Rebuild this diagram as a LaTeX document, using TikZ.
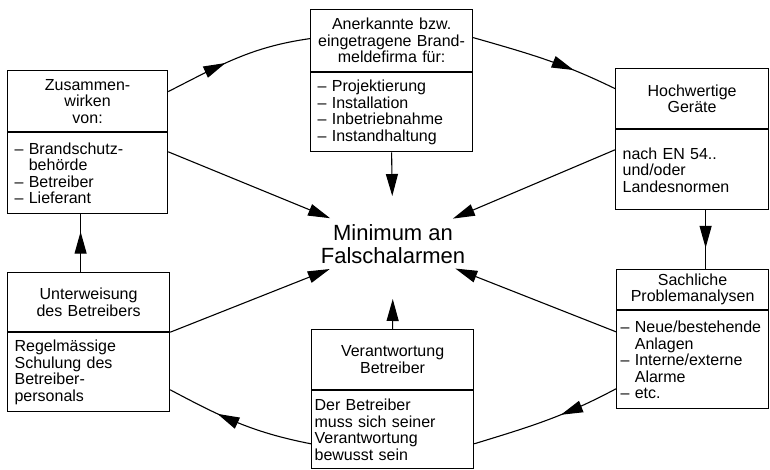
\documentclass[tikz,border=0pt]{standalone}
\usepackage{fontspec}
\setmainfont{Liberation Sans}
\usetikzlibrary{arrows.meta, positioning, decorations.markings}

\newcommand{\boxfont}{\fontsize{16}{16.5}\selectfont}
\newcommand{\hubfont}{\fontsize{22}{23}\selectfont}

\begin{document}
\begin{tikzpicture}[
  x=1pt, y=1pt,
  line width=1.1pt,
  boxhead/.style={draw, line width=1.2pt, align=center, inner xsep=0pt, inner ysep=2pt, font=\boxfont, anchor=north west},
  boxbody/.style={draw, line width=1.2pt, align=left, inner xsep=0pt, inner ysep=2pt, font=\boxfont},
  hub/.style={-{Triangle[length=22pt, width=12pt]}, shorten >=#1},
  flow/.style={postaction={decorate}, decoration={markings, mark=at position #1 with {\arrow{Triangle[length=22pt, width=12pt]}}}}
]
\useasboundingbox (0,0) rectangle (770,-469);

% boxes
\node[boxhead, minimum width=160pt, minimum height=61pt, text width=146pt] (zhead) at (7,-70) {Zusammen-\\wirken\\von:};
\node[boxbody, below=0pt of zhead, minimum width=160pt, minimum height=81pt, text width=146pt] (zbody) {–~Brandschutz-\\\phantom{– }behörde\\–~Betreiber\\–~Lieferant};

\node[boxhead, minimum width=162pt, minimum height=62pt, text width=148pt] (fhead) at (310,-9) {Anerkannte bzw.\\eingetragene Brand-\\meldefirma für:};
\node[boxbody, below=0pt of fhead, minimum width=162pt, minimum height=79pt, text width=148pt] (fbody) {–~Projektierung\\–~Installation\\–~Inbetriebnahme\\–~Instandhaltung};

\node[boxhead, minimum width=153pt, minimum height=60pt, text width=139pt] (ghead) at (615,-68) {Hochwertige\\Geräte};
\node[boxbody, below=0pt of ghead, minimum width=153pt, minimum height=80pt, text width=139pt] (gbody) {nach EN 54..\\und/oder\\Landesnormen};

\node[boxhead, minimum width=152pt, minimum height=40pt, text width=144pt] (phead) at (616,-269) {Sachliche\\Problemanalysen};
\node[boxbody, below=0pt of phead, minimum width=152pt, minimum height=98pt, text width=144pt] (pbody) {–~Neue/bestehende\\\phantom{– }Anlagen\\–~Interne/externe\\\phantom{– }Alarme\\–~etc.};

\node[boxhead, minimum width=162pt, minimum height=60pt, text width=156pt] (vhead) at (311,-329) {Verantwortung\\Betreiber};
\node[boxbody, below=0pt of vhead, minimum width=162pt, minimum height=78pt, text width=156pt] (vbody) {Der Betreiber\\muss sich seiner\\Verantwortung\\bewusst sein};

\node[boxhead, minimum width=162pt, minimum height=59pt, text width=148pt] (uhead) at (7,-272) {Unterweisung\\des Betreibers};
\node[boxbody, below=0pt of uhead, minimum width=162pt, minimum height=79pt, text width=148pt] (ubody) {Regelmässige\\Schulung des\\Betreiber-\\personals};

\node[font=\hubfont, align=center] (alarm) at (393,-244) {Minimum an\\Falschalarmen};

% ring
\draw[flow=0.42] ([yshift=9.5pt]zhead.east) to[out=27, in=188] ([yshift=2pt]fhead.west);
\draw[flow=0.7] ([yshift=3pt]fhead.east) to[out=-16, in=154] ([yshift=10pt]ghead.west);
\draw[flow=0.64] ([xshift=13.5pt]gbody.south) -- ([xshift=13pt]phead.north);
\draw[flow=0.4] ([yshift=-29pt]pbody.west) to[out=208, in=17] ([yshift=-14pt]vbody.east);
\draw[flow=0.65] ([yshift=-14pt]vbody.west) to[out=169, in=-28] ([yshift=-17.5pt]ubody.east);
\draw[flow=0.7] ([xshift=-8pt]uhead.north) -- ([xshift=-7pt]zbody.south);

% to the middle
\draw[hub=68pt] ([yshift=21.5pt]zbody.east) -- (alarm.center);
\draw[hub=48pt] (fbody.south) -- (alarm.center);
\draw[hub=65pt] ([yshift=20pt]gbody.west) -- (alarm.center);
\draw[hub=67pt] ([yshift=28pt]pbody.west) -- (alarm.center);
\draw[hub=55pt] (vhead.north) -- (alarm.center);
\draw[hub=68pt] (ubody.north east) -- (alarm.center);
\end{tikzpicture}
\end{document}
